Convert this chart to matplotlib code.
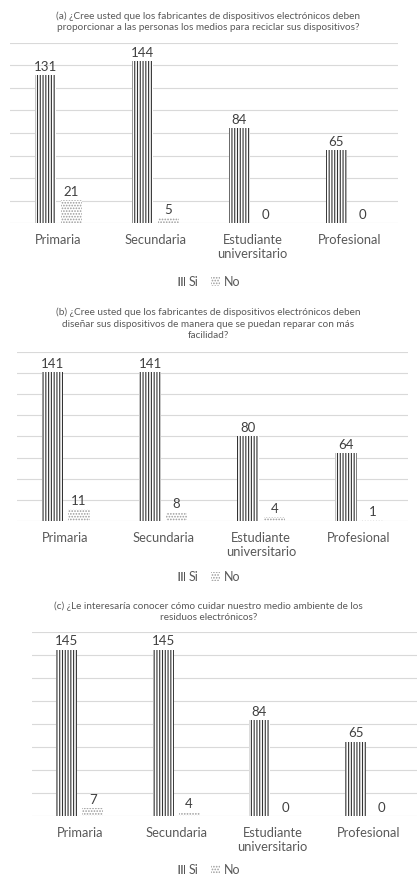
import matplotlib.pyplot as plt
import matplotlib.patches as mpatches
import numpy as np

plt.rcParams["font.family"] = ["Lato", "DejaVu Sans"]
plt.rcParams["hatch.linewidth"] = 0.8

categories = ["Primaria", "Secundaria", "Estudiante\nuniversitario", "Profesional"]
series = ["Si", "No"]

titles = [
    "(a) ¿Cree usted que los fabricantes de dispositivos electrónicos deben\n"
    "proporcionar a las personas los medios para reciclar sus dispositivos?",
    "(b) ¿Cree usted que los fabricantes de dispositivos electrónicos deben\n"
    "diseñar sus dispositivos de manera que se puedan reparar con más\n"
    "facilidad?",
    "(c) ¿Le interesaría conocer cómo cuidar nuestro medio ambiente de los\n"
    "residuos electrónicos?",
]
si_a = [131, 144, 84, 65]
no_a = [21, 5, 0, 0]
si_b = [141, 141, 80, 64]
no_b = [11, 8, 4, 1]
si_c = [145, 145, 84, 65]
no_c = [7, 4, 0, 0]

TXT = "#595959"
LBL = "#404040"
GRID = "#d9d9d9"
SI_COL = "#333333"
NO_COL = "#9a9a9a"
SI_HATCH = "||||||"
NO_HATCH = "......"

W, H = 417, 882
fig = plt.figure(figsize=(W / 100, H / 100), dpi=100)


def px_axes(x0, x1, y0, y1):
    # pixel box (top-left origin) -> figure fraction
    return fig.add_axes([x0 / W, 1 - y1 / H, (x1 - x0) / W, (y1 - y0) / H])


# x0, x1, top, bottom, title y (center), legend y
panels = [
    (10, 398, 42.7, 223.3, 22, 282),
    (16.7, 408, 351.7, 521, 324, 577),
    (31.7, 417, 632.3, 816.3, 612, 870),
]
data = [(si_a, no_a), (si_b, no_b), (si_c, no_c)]

x = np.arange(len(categories))
w = 0.22
off = 0.135

for (x0, x1, top, bot, ty, ly), (si, no), title in zip(panels, data, titles):
    ax = px_axes(x0, x1, top, bot)
    b1 = ax.bar(x - off, si, w, color="white", edgecolor=SI_COL, hatch=SI_HATCH, linewidth=0, zorder=2)
    b2 = ax.bar(x + off, no, w, color="white", edgecolor=NO_COL, hatch=NO_HATCH, linewidth=0, zorder=2)
    for bars in (b1, b2):
        for bar in bars:
            h = bar.get_height()
            ax.annotate(
                str(int(h)),
                (bar.get_x() + bar.get_width() / 2, h),
                xytext=(0, 1.5),
                textcoords="offset points",
                ha="center",
                va="bottom",
                fontsize=9.5,
                color=LBL,
            )
    ax.set_xlim(-0.5, len(categories) - 0.5)
    ax.set_ylim(0, 160)
    ax.set_yticks(np.arange(0, 161, 20))
    ax.set_yticklabels([])
    ax.grid(axis="y", color=GRID, linewidth=0.8, zorder=0)
    ax.set_axisbelow(True)
    for s in ax.spines.values():
        s.set_visible(False)
    ax.tick_params(axis="both", length=0)
    ax.tick_params(axis="x", pad=8)
    ax.set_xticks(x)
    ax.set_xticklabels(categories, fontsize=9.3, color=TXT, linespacing=1.2)

    fig.text(0.5, 1 - ty / H, title, ha="center", va="center", fontsize=7.2,
             color=TXT, linespacing=1.35)

    handles = [
        mpatches.Patch(facecolor="white", edgecolor=SI_COL, hatch=SI_HATCH, linewidth=0),
        mpatches.Patch(facecolor="white", edgecolor=NO_COL, hatch=NO_HATCH, linewidth=0),
    ]
    fig.legend(handles, series, loc="center", bbox_to_anchor=(0.5, 1 - ly / H),
               ncol=2, frameon=False, fontsize=9, labelcolor=TXT,
               handlelength=0.7, handleheight=0.7, handletextpad=0.3,
               columnspacing=1.0)

fig.savefig("out.png", dpi=100)
